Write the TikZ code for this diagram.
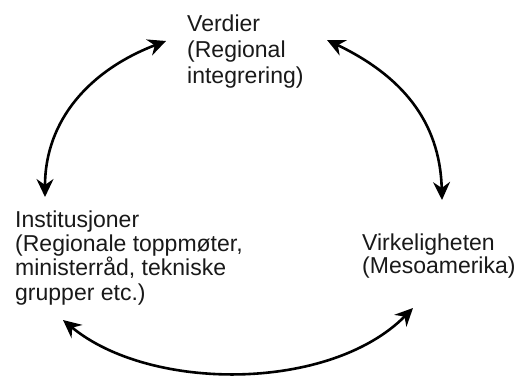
\documentclass[tikz,border=0pt]{standalone}
\usepackage{fontspec}
\setmainfont{Liberation Sans}
\usetikzlibrary{arrows.meta}
\begin{document}
\begin{tikzpicture}[x=1pt,y=-1pt,
  lbl/.style={anchor=base west,inner sep=0pt,align=left,text=black!90,font=\fontsize{23}{#1}\selectfont},
  cyc/.style={line width=2.6pt,{Stealth[length=18pt,width=17pt,inset=6pt]}-{Stealth[length=18pt,width=17pt,inset=6pt]}}]
\useasboundingbox[fill=white] (0,0) rectangle (518,377);
\node[lbl=26] (verd) at (187,84) {Verdier\\(Regional\\integrering)};
\node[lbl=24.3] (inst) at (15,300) {Institusjoner\\(Regionale toppmøter,\\ministerråd, tekniske\\grupper etc.)};
\node[lbl=21] (virk) at (362,273) {Virkeligheten\\(Mesoamerika)};
\coordinate (v1) at (166,41);
\coordinate (v2) at (327,40);
\coordinate (i1) at (45,197);
\coordinate (i2) at (63,320);
\coordinate (r1) at (442,200);
\coordinate (r2) at (413,308);
\draw[cyc] (v1) .. controls (90,70) and (45,120) .. (i1);
\draw[cyc] (v2) .. controls (400,75) and (440,120) .. (r1);
\draw[cyc] (i2) .. controls (150,392) and (330,392) .. (r2);
\end{tikzpicture}
\end{document}
